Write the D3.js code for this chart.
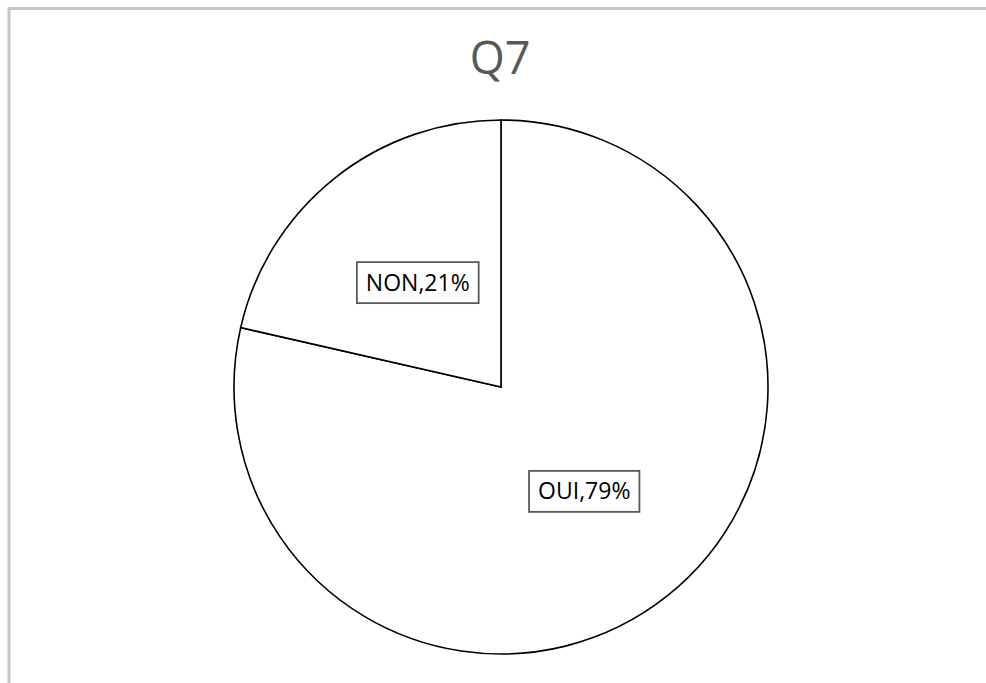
<!DOCTYPE html>
<html>
<head>
<meta charset="utf-8">
<script src="https://cdn.jsdelivr.net/npm/d3@7"></script>
<style>
  html, body { margin: 0; padding: 0; background: #fff; }
  svg { display: block; }
</style>
</head>
<body>
<svg id="chart" width="986" height="683"></svg>
<script>
// Data
const title = "Q7";
const categories = ["OUI", "NON"];
const values = [11, 3];   // 78.6% / 21.4%

const W = 986, H = 683;
const svg = d3.select("#chart");

// chart area border (top + left visible)
svg.append("path")
  .attr("d", `M9,${H} L9,8.5 L${W},8.5`)
  .attr("fill", "none")
  .attr("stroke", "#c6c6c6")
  .attr("stroke-width", 3);

// title
svg.append("text")
  .attr("x", 500)
  .attr("y", 74)
  .attr("text-anchor", "middle")
  .attr("font-family", "'Open Sans', 'Noto Sans', sans-serif")
  .attr("font-size", 45)
  .attr("fill", "#595959")
  .text(title);

const cx = 501, cy = 387, R = 267;
const total = d3.sum(values);
const pie = d3.pie().sort(null).value(d => d.v);
const arcs = pie(categories.map((c, i) => ({c, v: values[i]})));
const arc = d3.arc().innerRadius(0).outerRadius(R);
const labelArc = d3.arc().innerRadius(R * 0.5).outerRadius(R * 0.5);

const g = svg.append("g").attr("transform", `translate(${cx},${cy})`);
g.selectAll("path.slice")
  .data(arcs)
  .join("path")
  .attr("class", "slice")
  .attr("d", arc)
  .attr("fill", "#ffffff")
  .attr("stroke", "#000000")
  .attr("stroke-width", 1.6)
  .attr("stroke-linejoin", "miter");

const fmt = d3.format(".0%");
const lbl = g.selectAll("g.lbl")
  .data(arcs)
  .join("g")
  .attr("class", "lbl")
  .attr("transform", d => `translate(${labelArc.centroid(d)})`);

const rects = lbl.append("rect")
  .attr("fill", "#ffffff")
  .attr("stroke", "#595959")
  .attr("stroke-width", 1.8);

const texts = lbl.append("text")
  .attr("text-anchor", "middle")
  .attr("dy", "0.35em")
  .attr("font-family", "'Open Sans', 'Noto Sans', sans-serif")
  .attr("font-size", 23)
  .attr("fill", "#000000")
  .text(d => `${d.data.c},${fmt(d.data.v / total)}`);

texts.each(function(d) {
  const bb = this.getBBox();
  const padX = 9, h = 41;
  d3.select(this.parentNode).select("rect")
    .attr("x", -bb.width / 2 - padX)
    .attr("y", -h / 2)
    .attr("width", bb.width + 2 * padX)
    .attr("height", h);
});
</script>
</body>
</html>
